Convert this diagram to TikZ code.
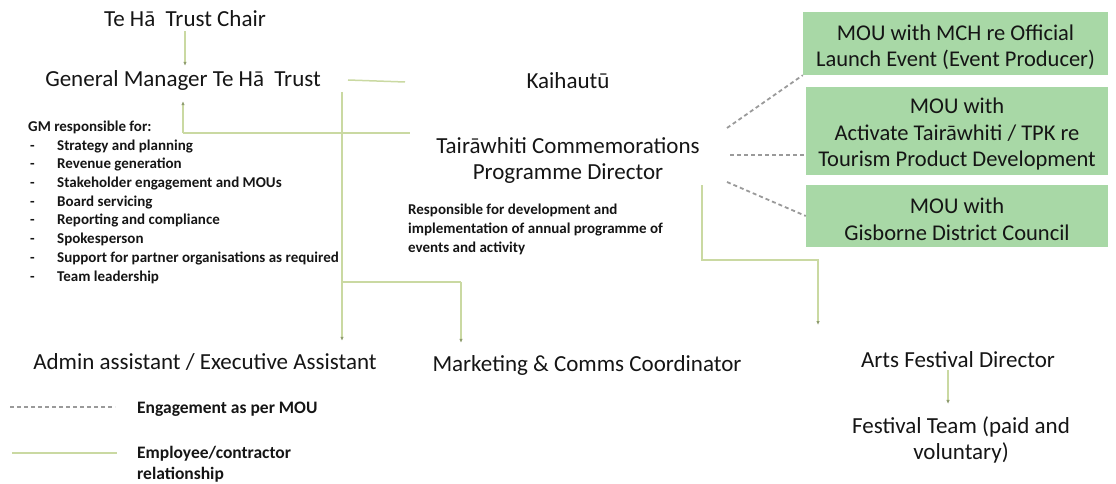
\documentclass[tikz,border=0pt]{standalone}
\usepackage{fontspec}
\setmainfont{Carlito}
\usepackage{xcolor}
\usepackage{tikz}
\usetikzlibrary{arrows.meta,calc}
\definecolor{ink}{HTML}{151515}
\definecolor{rel}{HTML}{CAD9A2}
\definecolor{tipc}{HTML}{8F9C6E}
\definecolor{mou}{HTML}{A8D8A6}
\definecolor{dash}{HTML}{9A9A9A}
\newcommand{\gmitem}[1]{\makebox[29pt][l]{\hspace{2pt}-}#1}
\tikzset{
  emp/.style={draw=rel, line width=1.5pt},
  empto/.style={emp, -{Latex[length=4pt,width=3.5pt,color=tipc]}},
  eng/.style={draw=dash, line width=1.8pt, dash pattern=on 4pt off 3pt},
  role/.style={text=ink, inner sep=0pt, align=center, font=\fontsize{23}{26}\selectfont},
  note/.style={text=ink, inner sep=0pt, align=left, font=\bfseries\fontsize{15}{18.7}\selectfont},
  legtext/.style={text=ink, inner sep=0pt, align=left, font=\bfseries\fontsize{17.5}{21}\selectfont},
  moubox/.style={fill=mou, text=ink, inner sep=0pt, align=center, minimum width=302pt,
    font=\fontsize{22.5}{26.5}\selectfont}
}

\begin{document}
\begin{tikzpicture}[x=1pt,y=-1pt]
  \useasboundingbox (0,0) rectangle (1116,484);

  % roles (base = last line)
  \node[role, anchor=base] (chair) at (185,27) {Te Hā\ \ Trust Chair};
  \node[role, anchor=base] (gm) at (183,87) {General Manager Te Hā\ \ Trust};
  \node[role, anchor=base] (kaihautu) at (568,89) {Kaihautū};
  \node[role, anchor=base] (director) at (568,179) {Tairāwhiti Commemorations\\Programme Director};
  \node[role, anchor=base] (admin) at (205,369) {Admin assistant / Executive Assistant};
  \node[role, anchor=base] (marketing) at (587,371) {Marketing \& Comms Coordinator};
  \node[role, anchor=base] (arts) at (958,367) {Arts Festival Director};
  \node[role, anchor=base] (team) at (961,459) {Festival Team (paid and\\voluntary)};

  % MOU partners
  \node[moubox, minimum width=305pt, minimum height=63pt] (mou1) at (955.5,43.5)
    {\rule{0pt}{23pt}MOU with MCH re Official\\Launch Event (Event Producer)};
  \node[moubox, minimum height=88pt] (mou2) at (957,131)
    {\rule{0pt}{22pt}MOU with\\Activate Tairāwhiti / TPK re\\Tourism Product Development};
  \node[moubox, minimum height=62pt] (mou3) at (957,216)
    {\rule{0pt}{22pt}MOU with\\Gisborne District Council};

  % duties
  \node[note, anchor=base west] (gmlist) at (28,281) {GM responsible for:\\
    \gmitem{Strategy and planning}\\
    \gmitem{Revenue generation}\\
    \gmitem{Stakeholder engagement and MOUs}\\
    \gmitem{Board servicing}\\
    \gmitem{Reporting and compliance}\\
    \gmitem{Spokesperson}\\
    \gmitem{Support for partner organisations as required}\\
    \gmitem{Team leadership}};
  \node[note, anchor=base west] (resp) at (408,252)
    {Responsible for development and\\implementation of annual programme of\\events and activity};

  % employee lines
  \coordinate (gmfoot) at (183,133);
  \coordinate (dirleft) at (410,133);
  \coordinate (stubA) at (348,80);
  \coordinate (stubB) at (405,82);
  \coordinate (spine) at (342,92);
  \coordinate (split) at (342,282);
  \coordinate (mkt) at (461,282);
  \coordinate (dirfoot) at (702,185);
  \coordinate (artsbend) at (818,260);
  \coordinate (artsin) at (818,325);

  \draw[empto, shorten <=4pt, shorten >=5pt] (chair.south) -- (chair.south |- gm.north);
  \draw[empto, shorten >=10pt] (gmfoot) -- (gmfoot |- gm.south);
  \draw[emp] (gmfoot) -- (dirleft);
  \draw[emp] (stubA) -- (stubB);
  \draw[emp] (spine) -- (split);
  \draw[empto, shorten >=12pt] (split) -- (split |- admin.north);
  \draw[emp] (split) -- (mkt);
  \draw[empto, shorten >=12pt] (mkt) -- (mkt |- marketing.north);
  \draw[empto] (dirfoot) |- (artsbend) -- (artsin);
  \draw[empto, shorten <=3pt, shorten >=12pt] ([xshift=-10pt]arts.south) -- ([xshift=-10pt]arts.south |- team.north);

  % MOU links
  \coordinate (d1) at (727,128);
  \coordinate (d2) at (730,155);
  \coordinate (d3) at (727,182);
  \draw[eng] (d1) -- (mou1.south west);
  \draw[eng] (d2) -- (mou2.west |- d2);
  \draw[eng] (d3) -- (mou3.west);

  % legend
  \coordinate (engL) at (10,407);
  \coordinate (engR) at (115,407);
  \coordinate (empL) at (12,453);
  \coordinate (empR) at (117,453);
  \draw[eng] (engL) -- (engR);
  \draw[emp] (empL) -- (empR);
  \node[legtext, anchor=base west] (englab) at (137,413) {Engagement as per MOU};
  \node[legtext, anchor=base west] (emplab) at (137,479) {Employee/contractor\\relationship};
\end{tikzpicture}
\end{document}
